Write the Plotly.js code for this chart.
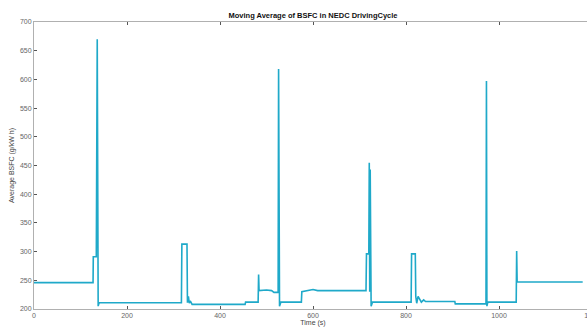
<!DOCTYPE html>
<html>
<head>
<meta charset="utf-8">
<script src="https://cdn.plot.ly/plotly-3.0.1.min.js"></script>
<style>
html,body{margin:0;padding:0;overflow:hidden;background:#fff;}
#chart{width:600px;height:327px;}
</style>
</head>
<body>
<div id="chart"></div>
<script>
// Time (s) breakpoints and moving-average BSFC (g/kW h)
const timeS = [0,127,127.5,134,136,136.5,137,138,140,
  317,318,329,330,332,334,336,340,454,455,482,483,484,500,511,516,525,
  526,527,527.5,528,531,575,576,590,600,610,714,715,720,721,722,723,725,728,
  811,812,820,821,823,826,829,833,838,842,905,906,972,973,974,976,
  1037,1038,1039,1180];
const bsfc = [246,246,291,291,670,290,400,205,211,
  211,313,313,211,222,210,214,208,208,212,212,260,232,233,232,229,229,
  618,229,460,205,212,212,230,232,234,232,232,296,296,455,230,443,205,212,
  212,296,296,222,210,222,217,212,216,213,213,209,209,597,205,212,
  212,301,247,247];

const xTicks = [0,200,400,600,800,1000,1200];
const yTicks = [200,250,300,350,400,450,500,550,600,650,700];

const trace = {
  x: timeS, y: bsfc, type: 'scatter', mode: 'lines',
  line: {color: '#1fa9c9', width: 1.6},
  hoverinfo: 'skip'
};

const axisCommon = {
  showgrid: false, zeroline: false, showline: true, linecolor: '#b0b0b0', linewidth: 1,
  mirror: 'ticks', ticks: 'inside', ticklen: 3, tickcolor: '#555',
  tickfont: {family: 'Liberation Sans, Arial, sans-serif', size: 7, color: '#666'}
};

const layout = {
  width: 600, height: 327,
  margin: {l: 34, r: 8, t: 22, b: 18},
  paper_bgcolor: '#fff', plot_bgcolor: '#fff',
  showlegend: false,
  title: {
    text: '<b>Moving Average of BSFC in NEDC DrivingCycle</b>',
    font: {family: 'Liberation Sans, Arial, sans-serif', size: 7.5, color: '#111'},
    x: 0.5, xref: 'paper', y: 1, yref: 'container', yanchor: 'top', pad: {t: 13}
  },
  xaxis: Object.assign({}, axisCommon, {
    range: [0, 1200], tickvals: xTicks, ticktext: xTicks.map(String),
    title: {text: 'Time (s)', standoff: 1,
      font: {family: 'Liberation Sans, Arial, sans-serif', size: 7, color: '#444'}}
  }),
  yaxis: Object.assign({}, axisCommon, {
    range: [200, 700], tickvals: yTicks, ticktext: yTicks.map(String),
    title: {text: 'Average BSFC (g/kW h)', standoff: 4,
      font: {family: 'Liberation Sans, Arial, sans-serif', size: 7, color: '#444'}}
  })
};

Plotly.newPlot('chart', [trace], layout, {displayModeBar: false, staticPlot: true});
</script>
</body>
</html>
